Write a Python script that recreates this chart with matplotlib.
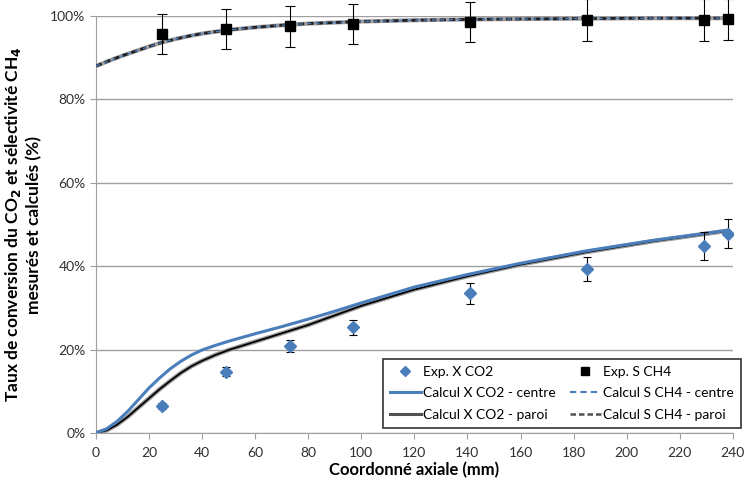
import numpy as np
import matplotlib
matplotlib.use("Agg")
import matplotlib.pyplot as plt
from matplotlib.ticker import FuncFormatter

plt.rcParams['font.family'] = ['Lato', 'DejaVu Sans']

# experimental points (mm, fraction)
x_exp = [25, 49, 73, 97, 141, 185, 229, 238]
co2_exp = [0.064, 0.147, 0.208, 0.254, 0.335, 0.393, 0.449, 0.478]
co2_err = [0.007, 0.010, 0.015, 0.018, 0.025, 0.029, 0.033, 0.035]
ch4_exp = [0.956, 0.968, 0.975, 0.982, 0.985, 0.990, 0.990, 0.992]
ch4_err = [0.048, 0.048, 0.048, 0.048, 0.048, 0.050, 0.050, 0.050]

# calculated profiles
x_co2 = [0, 4, 8, 12, 16, 20, 24, 28, 32, 36, 40, 45, 50, 60, 70, 80, 90, 100,
         120, 140, 160, 185, 210, 238]
co2_centre = [0.0, 0.010, 0.028, 0.052, 0.080, 0.108, 0.132, 0.154, 0.172, 0.187,
              0.199, 0.210, 0.220, 0.238, 0.255, 0.273, 0.292, 0.312,
              0.350, 0.380, 0.407, 0.437, 0.462, 0.486]
co2_paroi = [0.0, 0.006, 0.020, 0.039, 0.061, 0.083, 0.105, 0.125, 0.144, 0.160,
             0.173, 0.187, 0.199, 0.219, 0.239, 0.259, 0.282, 0.305,
             0.344, 0.376, 0.404, 0.434, 0.460, 0.485]
x_ch4 = [0, 5, 10, 15, 20, 25, 30, 35, 40, 50, 60, 70, 80, 100, 120, 140, 160,
         185, 210, 238]
ch4_centre = [0.880, 0.893, 0.905, 0.916, 0.927, 0.937, 0.945, 0.952, 0.958, 0.967,
              0.973, 0.978, 0.982, 0.987, 0.990, 0.992, 0.993, 0.994, 0.995, 0.995]
ch4_paroi = [0.880, 0.893, 0.905, 0.916, 0.927, 0.937, 0.945, 0.952, 0.958, 0.967,
             0.973, 0.978, 0.982, 0.987, 0.990, 0.992, 0.993, 0.994, 0.995, 0.995]

blue = '#4A7EBB'

fig = plt.figure(figsize=(7.44, 4.87), dpi=100)
ax = fig.add_axes([0.129, 0.111, 0.856, 0.856])

ax.plot(x_co2, co2_paroi, color='#9a9a9a', lw=3.2, zorder=2)
ax.plot(x_co2, co2_paroi, color='black', lw=1.3, zorder=3)
ax.plot(x_co2, co2_centre, color=blue, lw=2.2, zorder=4)

ax.plot(x_ch4, ch4_paroi, color='#a0a0a0', lw=3.0, zorder=2)
ax.plot(x_ch4, ch4_paroi, color='#202020', lw=2.0, ls=(0, (2.2, 1.2)), zorder=3)
ax.plot(x_ch4, ch4_centre, color=blue, lw=1.0, ls=(0, (3, 3)), zorder=4)

ax.errorbar(x_exp, co2_exp, yerr=co2_err, fmt='none', ecolor='black', elinewidth=0.8,
            capsize=3, capthick=0.8, zorder=5)
ax.plot(x_exp, co2_exp, 'D', color=blue, ms=6, zorder=6)
eb = ax.errorbar(x_exp, ch4_exp, yerr=ch4_err, fmt='none', ecolor='black', elinewidth=0.8,
                 capsize=3.5, capthick=0.8, zorder=5)
for art in list(eb.lines[1]) + list(eb.lines[2]):
    art.set_clip_on(False)
ax.plot(x_exp, ch4_exp, 's', color='black', ms=7.5, zorder=6, clip_on=False)

ax.set_xlim(0, 240)
ax.set_ylim(0, 1.0)
ax.set_xticks(np.arange(0, 241, 20))
ax.set_yticks(np.arange(0, 1.01, 0.2))
ax.yaxis.set_major_formatter(FuncFormatter(lambda v, p: f"{v*100:.0f}%"))
ax.grid(axis='y', color='#a0a0a0', lw=1.0)
ax.set_axisbelow(True)
for s in ['top', 'right']:
    ax.spines[s].set_visible(False)
for s in ['left', 'bottom']:
    ax.spines[s].set_color('#a0a0a0')
ax.tick_params(colors='#a0a0a0', labelcolor='#303030', labelsize=10, length=4)
ax.tick_params(axis='x', pad=6)

ax.set_xlabel("Coordonné axiale (mm)", fontsize=12, fontweight='bold', labelpad=2)
ax.set_ylabel("Taux de conversion du CO$_\\mathbf{2}$ et sélectivité CH$_\\mathbf{4}$\nmesurés et calculés (%)",
              fontsize=12.5, fontweight='bold', labelpad=6)

# legend proxies
h1 = plt.Line2D([], [], ls='none', marker='D', color=blue, ms=5)
h2 = plt.Line2D([], [], color=blue, lw=2.2)
h3 = plt.Line2D([], [], color='#505050', lw=2.2)
h4 = plt.Line2D([], [], ls='none', marker='s', color='black', ms=6)
h5 = plt.Line2D([], [], color=blue, lw=1.5, ls=(0, (3, 2)))
h6 = plt.Line2D([], [], color='#505050', lw=1.8, ls=(0, (2.2, 1.2)))
leg = ax.legend([h1, h2, h3, h4, h5, h6],
                ["Exp. X CO2", "Calcul X CO2 - centre", "Calcul X CO2 - paroi",
                 "Exp. S CH4", "Calcul S CH4 - centre", "Calcul S CH4 - paroi"],
                ncol=2, loc='lower right', bbox_to_anchor=(741 / 744, 1 - 428 / 487),
                bbox_transform=fig.transFigure, fontsize=10,
                frameon=True, fancybox=False, edgecolor='black', handlelength=2.2,
                handletextpad=0.2, columnspacing=1.0, labelspacing=0.7, borderpad=0.5,
                borderaxespad=0)
leg.get_frame().set_linewidth(1.2)

fig.savefig("out.png", dpi=100)
